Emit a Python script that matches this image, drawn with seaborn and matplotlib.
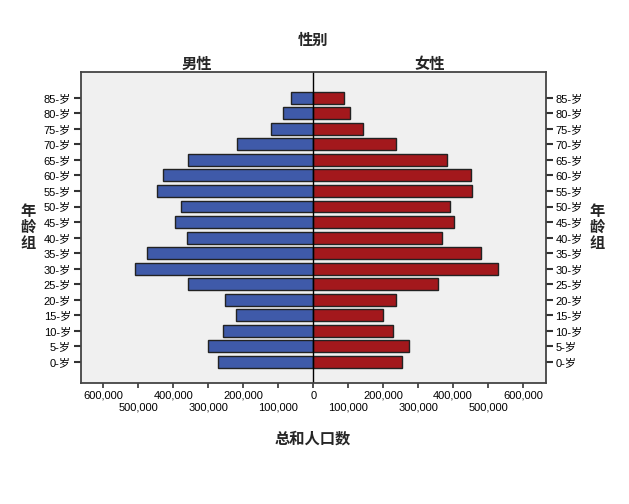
import numpy as np
import pandas as pd
import matplotlib
matplotlib.use("Agg")
import matplotlib.pyplot as plt
import seaborn as sns

# age groups, top to bottom
age_groups = ["85-岁", "80-岁", "75-岁", "70-岁", "65-岁", "60-岁", "55-岁", "50-岁", "45-岁",
              "40-岁", "35-岁", "30-岁", "25-岁", "20-岁", "15-岁", "10-岁", "5-岁", "0-岁"]
male = [63000, 85000, 122000, 219000, 357000, 429000, 446000, 378000, 395000,
        360000, 475000, 510000, 357000, 251000, 222000, 257000, 302000, 271000]
female = [87000, 104000, 141000, 238000, 384000, 450000, 453000, 391000, 404000,
          368000, 481000, 529000, 358000, 238000, 201000, 229000, 274000, 255000]
tick_vals = [-600000, -500000, -400000, -300000, -200000, -100000, 0,
             100000, 200000, 300000, 400000, 500000, 600000]

df = pd.DataFrame({"年龄组": age_groups, "男性": male, "女性": female})
df["男性_neg"] = -df["男性"]

sns.set_style("ticks")
plt.rcParams["font.family"] = ["Liberation Sans", "Noto Sans CJK SC"]
cjk = ["Noto Sans CJK SC", "DejaVu Sans"]

fig = plt.figure(figsize=(6.29, 5.04), dpi=100)
ax = fig.add_axes([0.1283, 0.2395, 0.7393, 0.617])
ax.set_facecolor("#f0f0f0")

sns.barplot(data=df, x="男性_neg", y="年龄组", order=age_groups, orient="h",
            color="#3f5aa9", saturation=1, width=0.77, edgecolor="#222222", linewidth=1, ax=ax)
sns.barplot(data=df, x="女性", y="年龄组", order=age_groups, orient="h",
            color="#a3181c", saturation=1, width=0.77, edgecolor="#222222", linewidth=1, ax=ax)

ax.axvline(0, color="black", lw=1)
ax.set_xlim(-665000, 665000)
ax.set_ylim(18.37, -1.63)

ax.set_xticks(tick_vals)
ax.set_xticklabels([f"{abs(v):,}" for v in tick_vals])
ax.tick_params(axis="x", width=1.2, color="#333333", labelsize=8, labelcolor="black")
ax.tick_params(axis="y", labelsize=8, length=5, width=1.5, color="#333333",
               labelcolor="black", right=True, labelright=True, pad=2)
for i, t in enumerate(ax.xaxis.get_major_ticks()):
    if i % 2 == 0:
        t.tick1line.set_markersize(5)
        t.set_pad(2)
    else:
        t.tick1line.set_markersize(10)
        t.set_pad(2 + 8.5)

for sp in ax.spines.values():
    sp.set_color("#444444")
    sp.set_linewidth(1.3)

ax.set_xlabel("")
ax.set_ylabel("")

title_kw = dict(ha="center", va="center", fontsize=11, fontweight="bold", family=cjk)
fig.text(313 / 629, 1 - 40 / 504, "性别", **title_kw)
fig.text(197 / 629, 1 - 64 / 504, "男性", **title_kw)
fig.text(430 / 629, 1 - 64 / 504, "女性", **title_kw)
fig.text(313 / 629, 1 - 439 / 504, "总和人口数", **title_kw)
fig.text(28 / 629, 1 - 227 / 504, "年\n龄\n组", linespacing=1.0, **title_kw)
fig.text(597 / 629, 1 - 227 / 504, "年\n龄\n组", linespacing=1.0, **title_kw)

fig.savefig("out.png", dpi=100)
